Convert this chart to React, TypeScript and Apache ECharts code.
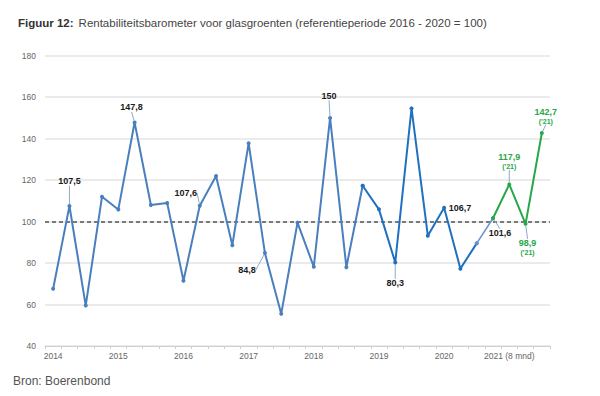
import React, { useEffect, useRef } from "react";
import * as echarts from "echarts";

// Periods (quarters 2014-2020, then 2021 periods)
const periods: string[] = [
  "2014 K1", "2014 K2", "2014 K3", "2014 K4",
  "2015 K1", "2015 K2", "2015 K3", "2015 K4",
  "2016 K1", "2016 K2", "2016 K3", "2016 K4",
  "2017 K1", "2017 K2", "2017 K3", "2017 K4",
  "2018 K1", "2018 K2", "2018 K3", "2018 K4",
  "2019 K1", "2019 K2", "2019 K3", "2019 K4",
  "2020 K1", "2020 K2", "2020 K3", "2020 K4",
  "2021 P1", "2021 P2", "2021 P3",
];

const yearTickLabels: string[] = ["2014", "2015", "2016", "2017", "2018", "2019", "2020", "2021 (8 mnd)"];

const values: number[] = [
  67.6, 107.5, 59.5, 112.0,
  105.8, 147.8, 108.0, 109.0,
  71.5, 107.6, 122.0, 88.6,
  137.8, 84.8, 55.5, 99.5,
  78.2, 150.0, 78.0, 117.3,
  105.9, 80.3, 154.6, 93.2,
  106.7, 77.3, 89.5, 101.6,
  117.9, 98.9, 142.7,
];

const yMin = 40;
const yMax = 180;
const yStep = 20;
const referenceLevel = 100;

// indices of labelled points
const labelledBlack: number[] = [1, 5, 9, 13, 17, 21, 24, 27];
const labelledGreen: number[] = [28, 29, 30];
const noLeader: number[] = [24];

// label placement relative to the point (pixels)
const labelOffsets: Record<number, [number, number]> = {
  1: [0, -25],
  5: [-3, -15],
  9: [-14, -13],
  13: [-18, 17],
  17: [-1, -22],
  21: [0, 21],
  24: [16, 0],
  27: [7, 15],
  28: [0, -23],
  29: [2, 24],
  30: [4, -17],
};

const fmt = (v: number) => String(v).replace(".", ",");

const FONT = "'Liberation Sans', Arial, sans-serif";
const BLUE1 = "#4a7fbe";
const BLUE2 = "#2170c0";
const BLUE3 = "#6593cf";
const GREEN = "#27a74a";
const LEADER = "#8eaacb";

function buildSeries(from: number, to: number, color: string, width: number, green: boolean, markRef: boolean) {
  const data = values.map((v, i) => {
    if (i < from || i > to) return null;
    const item: any = { value: v };
    const showLabel = green ? labelledGreen.includes(i) : labelledBlack.includes(i);
    if (showLabel) {
      item.label = {
        show: true,
        formatter: green ? `{a|${fmt(v)}}\n{b|('21)}` : fmt(v),
      };
      item.labelLine = { show: !noLeader.includes(i) };
    }
    return item;
  });
  const s: any = {
    type: "line",
    data,
    connectNulls: false,
    symbol: "circle",
    symbolSize: 4,
    lineStyle: { color, width },
    itemStyle: { color },
    z: green ? 4 : 3,
    label: {
      show: false,
      fontFamily: FONT,
      fontSize: 9,
      fontWeight: "bold",
      color: "#1a1a1a",
      rich: {
        a: { fontFamily: FONT, fontSize: 9, fontWeight: "bold", color: GREEN, align: "center", lineHeight: 10 },
        b: { fontFamily: FONT, fontSize: 7, fontWeight: "bold", color: GREEN, align: "center", lineHeight: 9 },
      },
    },
    labelLine: { show: true, lineStyle: { color: LEADER, width: 1 } },
    labelLayout: (p: any) => {
      const off = labelOffsets[p.dataIndex];
      if (!off) return {};
      return {
        x: p.rect.x + p.rect.width / 2 + off[0],
        y: p.rect.y + p.rect.height / 2 + off[1],
        align: "center",
        verticalAlign: "middle",
      };
    },
  };
  if (markRef) {
    s.markLine = {
      silent: true,
      symbol: ["none", "none"],
      label: { show: false },
      lineStyle: { color: "#555", type: [4, 3], width: 1.5 },
      data: [{ yAxis: referenceLevel }],
      z: 2,
    };
  }
  return s;
}

export default function App() {
  const ref = useRef<HTMLDivElement>(null);
  useEffect(() => {
    document.body.style.margin = "0";
    const chart = echarts.init(ref.current!, undefined, { renderer: "svg" });
    const s1 = buildSeries(0, 19, BLUE1, 2, false, true);
    const s2 = buildSeries(19, 26, BLUE2, 2, false, false);
    const s3 = buildSeries(26, 27, BLUE3, 1.5, false, false);
    const s4 = buildSeries(27, 30, GREEN, 2, true, false);
    chart.setOption({
      animation: false,
      backgroundColor: "#ffffff",
      textStyle: { fontFamily: FONT },
      title: {
        left: 13,
        top: 9,
        text: "{b|Figuur 12:} {n|Rentabiliteitsbarometer voor glasgroenten (referentieperiode 2016 - 2020 = 100)}",
        textStyle: {
          fontWeight: "normal",
          rich: {
            b: { fontFamily: FONT, fontSize: 11.5, fontWeight: "bold", color: "#333" },
            n: { fontFamily: FONT, fontSize: 11.5, fontWeight: "normal", color: "#444" },
          },
        },
      },
      graphic: [
        {
          type: "text",
          left: 13,
          top: 375,
          style: { text: "Bron: Boerenbond", font: `12px ${FONT}`, fill: "#555" },
        },
      ],
      grid: { left: 45, right: 50, top: 55.7, bottom: 50, containLabel: false },
      xAxis: {
        type: "category",
        data: periods,
        boundaryGap: true,
        axisLine: { show: true, lineStyle: { color: "#cfcfcf", width: 1 } },
        axisTick: { show: true, interval: 0, length: 3, lineStyle: { color: "#cfcfcf" } },
        axisLabel: {
          interval: 0,
          margin: 5,
          fontFamily: FONT,
          fontSize: 8.5,
          color: "#666",
          formatter: (_v: string, i: number) => (i % 4 === 0 ? yearTickLabels[i / 4] ?? "" : ""),
        },
        splitLine: { show: false },
      },
      yAxis: {
        type: "value",
        min: yMin,
        max: yMax,
        interval: yStep,
        axisLine: { show: false },
        axisTick: { show: false },
        axisLabel: { margin: 9, fontFamily: FONT, fontSize: 8.5, color: "#666" },
        splitLine: { lineStyle: { color: "#e4e4e4", width: 1.5 } },
      },
      series: [s1, s2, s3, s4],
    });
    return () => chart.dispose();
  }, []);
  return <div ref={ref} style={{ width: 600, height: 396 }} />;
}
